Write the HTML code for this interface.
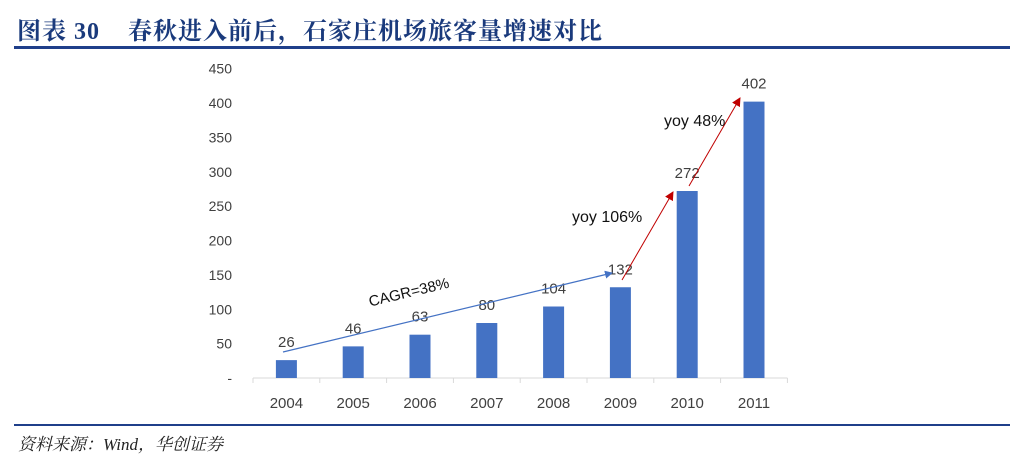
<!DOCTYPE html>
<html><head><meta charset="utf-8"><style>
body{margin:0;background:#fff;width:1010px;height:471px;overflow:hidden;position:relative;font-family:"Liberation Sans","Noto Sans CJK SC",sans-serif}
#title{position:absolute;left:17px;top:11px;font-family:"Liberation Serif","Noto Serif CJK SC",serif;font-weight:bold;font-size:24px;color:#1a3a7c;letter-spacing:1px;white-space:nowrap}
.rule{position:absolute;left:14px;width:996px;height:3px;background:#1f3f8a}
#src{position:absolute;left:18px;top:430px;font-family:"Liberation Serif","Noto Serif CJK SC",serif;font-style:italic;font-size:17px;color:#222}
svg{position:absolute;left:0;top:0}
</style></head><body>
<div id="title">图表 30<span style="display:inline-block;width:28px"></span>春秋进入前后，石家庄机场旅客量增速对比</div>
<div class="rule" style="top:46px"></div>
<div class="rule" style="top:424px;height:2px"></div>
<div id="src">资料来源：Wind，华创证券</div>
<svg id="chart" width="1010" height="471"></svg>
<script>
const categories=["2004","2005","2006","2007","2008","2009","2010","2011"];
const values=[26,46,63,80,104,132,272,402];
const yTicks=[0,50,100,150,200,250,300,350,400,450];
const svg=document.getElementById('chart');const NS="http://www.w3.org/2000/svg";
const x0=253,bw=66.8,y0=378,k=0.6875;
const xc=i=>x0+bw*(i+0.5);const y=v=>y0-v*k;
function mk(t,a,p){const e=document.createElementNS(NS,t);for(const n in a)e.setAttribute(n,a[n]);(p||svg).appendChild(e);return e;}
const defs=mk('defs',{});
const m1=mk('marker',{id:'ab',markerWidth:8,markerHeight:8,refX:7,refY:4,orient:'auto',markerUnits:'userSpaceOnUse'},defs);mk('path',{d:'M0,0L8,4L0,8z',fill:'#4472c4'},m1);
const m2=mk('marker',{id:'ar',markerWidth:9,markerHeight:9,refX:8,refY:4.5,orient:'auto',markerUnits:'userSpaceOnUse'},defs);mk('path',{d:'M0,0L9,4.5L0,9z',fill:'#c00000'},m2);
yTicks.forEach(t=>{const e=mk('text',{x:232,y:y(t)+5,'text-anchor':'end','font-size':14,fill:'#404040'});e.textContent=t===0?'-':t;

});
const ax=mk('line',{x1:x0,y1:y0,x2:x0+bw*8,y2:y0,stroke:'#d9d9d9','stroke-width':1});


for(let i=0;i<=8;i++){mk('line',{x1:x0+bw*i,y1:y0,x2:x0+bw*i,y2:y0+5,stroke:'#d9d9d9'});}
categories.forEach((c,i)=>{
const r=mk('rect',{x:xc(i)-10.5,y:y(values[i]),width:21,height:values[i]*k,fill:'#4472c4'});


const l=mk('text',{x:xc(i),y:y(values[i])-13,'text-anchor':'middle','font-size':15,fill:'#404040'});l.textContent=values[i];


const t=mk('text',{x:xc(i),y:408,'text-anchor':'middle','font-size':15,fill:'#404040'});t.textContent=c;

});
const a1=mk('line',{x1:283,y1:352,x2:612,y2:273,stroke:'#4472c4','stroke-width':1.2,'marker-end':'url(#ab)'});

const t1=mk('text',{x:410,y:297,'text-anchor':'middle','font-size':15,fill:'#111',transform:'rotate(-13.5 410 297)'});t1.textContent='CAGR=38%';

const a2=mk('line',{x1:622,y1:280,x2:673,y2:192,stroke:'#c00000','stroke-width':1,'marker-end':'url(#ar)'});

const a3=mk('line',{x1:689,y1:186,x2:740,y2:98,stroke:'#c00000','stroke-width':1,'marker-end':'url(#ar)'});

const t2=mk('text',{x:572,y:222,'font-size':16,fill:'#111'});t2.textContent='yoy 106%';

const t3=mk('text',{x:664,y:126,'font-size':16,fill:'#111'});t3.textContent='yoy 48%';

</script>
</body></html>
